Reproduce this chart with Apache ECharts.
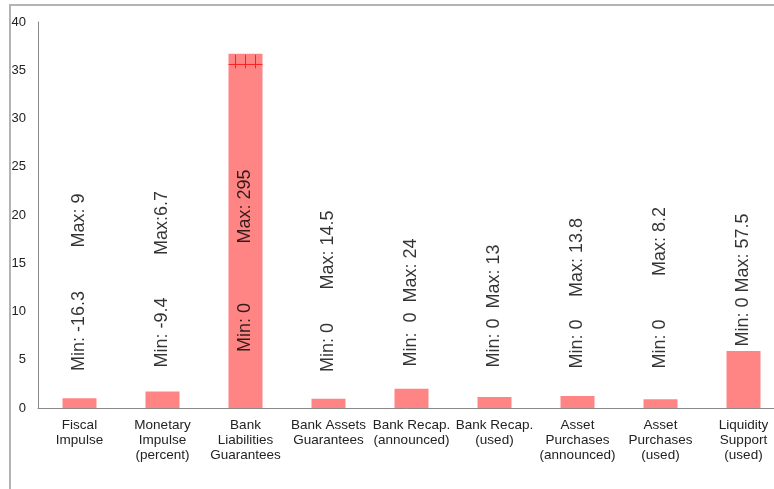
<!DOCTYPE html>
<html>
<head>
<meta charset="utf-8">
<script src="https://cdn.jsdelivr.net/npm/echarts@6/dist/echarts.min.js"></script>
<style>
  html, body { margin: 0; padding: 0; background: #fff; }
  #main { width: 774px; height: 489px; }
</style>
</head>
<body>
<div id="main"></div>
<script>
// categories and bar heights
const categories = [
  'Fiscal\nImpulse',
  'Monetary\nImpulse\n(percent)',
  'Bank\nLiabilities\nGuarantees',
  'Bank Assets\nGuarantees',
  'Bank Recap.\n(announced)',
  'Bank Recap.\n(used)',
  'Asset\nPurchases\n(announced)',
  'Asset\nPurchases\n(used)',
  'Liquidity\nSupport\n(used)'
];
const barValues = [1.0, 1.7, 36.7, 0.95, 2.0, 1.15, 1.25, 0.9, 5.9];

// vertical text notes (text and the y value of their centre)
const minTexts = ['Min: -16.3', 'Min: -9.4', 'Min: 0', 'Min: 0', 'Min:  0  Max: 24',
                  'Min: 0  Max: 13', 'Min: 0', 'Min: 0', 'Min: 0 Max: 57.5'];
const minTextY = [7.98, 7.82, 8.34, 6.27, 10.93, 10.57, 6.63, 6.63, 13.26];
const maxTexts = ['Max: 9', 'Max:6.7', 'Max: 295', 'Max: 14.5', '', '', 'Max: 13.8', 'Max: 8.2', ''];
const maxTextY = [19.43, 19.17, 20.88, 16.37, 0, 0, 15.6, 17.25, 0];

// small red cross marks on top of the tall bar
const crossCat = 2;
const crossTop = 36.6;
const crossMid = 35.6;
const crossLow = 35.2;

const yTicks = { min: 0, max: 40, interval: 5 };

const chart = echarts.init(document.getElementById('main'));

let notes = [];
categories.forEach((c, i) => {
  notes.push({ value: [i, minTextY[i]], label: { formatter: minTexts[i] } });
  if (maxTexts[i]) {
    notes.push({ value: [i, maxTextY[i]], label: { formatter: maxTexts[i] } });
  }
});

const font = '"Liberation Sans", Arial, sans-serif';

chart.setOption({
  animation: false,
  textStyle: { fontFamily: font },
  graphic: [{
    type: 'rect',
    shape: { x: 10, y: 5, width: 800, height: 520 },
    style: { fill: 'none', stroke: '#b4b4b4', lineWidth: 2 },
    silent: true
  }],
  grid: { left: 38, top: 22, width: 747, height: 386, outerBoundsMode: 'none' },
  xAxis: {
    type: 'category',
    data: categories,
    axisLine: { lineStyle: { color: '#888', width: 1 } },
    axisTick: { show: false },
    axisLabel: {
      interval: 0,
      margin: 10,
      fontSize: 13.5,
      lineHeight: 15,
      color: '#222',
      fontFamily: font
    }
  },
  yAxis: {
    type: 'value',
    min: yTicks.min,
    max: yTicks.max,
    interval: yTicks.interval,
    axisLine: { show: true, lineStyle: { color: '#888', width: 1 } },
    axisTick: { show: false },
    splitLine: { show: false },
    axisLabel: { margin: 12, fontSize: 13, color: '#222', fontFamily: font }
  },
  series: [
    {
      type: 'bar',
      data: barValues,
      barWidth: 34,
      itemStyle: { color: '#ff8585' }
    },
    {
      type: 'custom',
      data: [[crossCat, crossTop, crossMid, crossLow]],
      renderItem: function (params, api) {
        const top = api.coord([api.value(0), api.value(1)]);
        const mid = api.coord([api.value(0), api.value(2)]);
        const low = api.coord([api.value(0), api.value(3)]);
        const st = { stroke: '#ff2020', lineWidth: 1 };
        const kids = [{
          type: 'line',
          shape: { x1: mid[0] - 17, y1: mid[1], x2: mid[0] + 17, y2: mid[1] },
          style: st
        }];
        [-10, 0, 10].forEach(dx => {
          kids.push({
            type: 'line',
            shape: { x1: top[0] + dx, y1: top[1], x2: low[0] + dx, y2: low[1] },
            style: st
          });
        });
        return { type: 'group', children: kids };
      },
      silent: true,
      z: 3
    },
    {
      type: 'scatter',
      data: notes,
      symbolSize: 0,
      silent: true,
      z: 5,
      label: {
        show: true,
        position: 'inside',
        rotate: 90,
        align: 'center',
        verticalAlign: 'middle',
        fontSize: 18,
        color: '#000',
        fontFamily: font
      }
    }
  ]
});
</script>
</body>
</html>
